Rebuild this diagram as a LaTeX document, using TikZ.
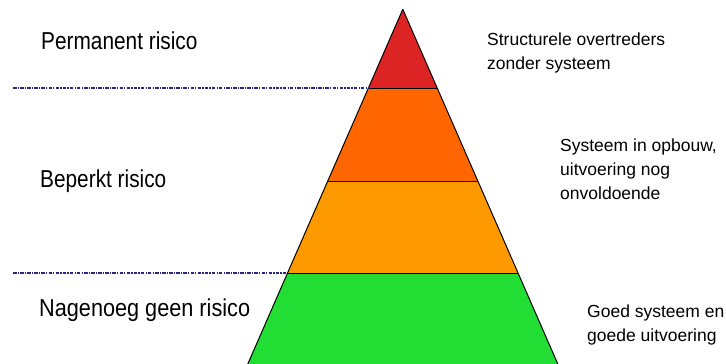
\documentclass[tikz,border=0pt]{standalone}
\usepackage{fontspec}
\setmainfont{Liberation Sans}
\newfontfamily\labfont[FakeStretch=0.85]{Liberation Sans}
\newfontfamily\labwidefont[FakeStretch=0.885]{Liberation Sans}
\definecolor{pyrred}{RGB}{220,36,36}
\definecolor{pyrorange}{RGB}{255,102,0}
\definecolor{pyramber}{RGB}{255,153,0}
\definecolor{pyrgreen}{RGB}{34,221,51}
\definecolor{levelblue}{RGB}{40,40,130}
\begin{document}
\begin{tikzpicture}[x=1pt,y=-1pt,
  lab/.style={font=\labfont\fontsize{24.5}{29}\selectfont, anchor=base west, inner sep=0},
  note/.style={font=\fontsize{17.5}{24}\selectfont, anchor=base west, inner sep=0, align=left},
  band/.style={draw=black, line width=1pt, line join=round},
  level/.style={draw=levelblue, line width=1.6pt, dash pattern=on 3.5pt off 1.2pt on 1.2pt off 1.2pt}]
\useasboundingbox (0,0) rectangle (726,364);
\clip (0,0) rectangle (726,364);
\fill[white] (0,0) rectangle (726,364);
% pyramid corners
\coordinate (A)  at (402.8,9.3);
\coordinate (L1) at (368.2,88.7);
\coordinate (R1) at (437.4,88.7);
\coordinate (L2) at (327.5,181.5);
\coordinate (R2) at (478.1,181.5);
\coordinate (L3) at (287.3,273.4);
\coordinate (R3) at (518.3,273.4);
\coordinate (L4) at (240.8,380);
\coordinate (R4) at (564.8,380);
% bands
\fill[pyrred]    (A) -- (R1) -- (L1) -- cycle;
\fill[pyrorange] (L1) -- (R1) -- (R2) -- (L2) -- cycle;
\fill[pyramber]  (L2) -- (R2) -- (R3) -- (L3) -- cycle;
\fill[pyrgreen]  (L3) -- (R3) -- (R4) -- (L4) -- cycle;
\draw[band] (L4) -- (A) -- (R4);
\draw[band] (L1) -- (R1);
\draw[band] (L2) -- (R2);
\draw[band] (L3) -- (R3);
% level lines
\coordinate (D1) at (13,87.8);
\coordinate (D2) at (13,272.9);
\draw[level] (D1) -- (L1 |- D1);
\draw[level] (D2) -- (L3 |- D2);
% labels left
\node[lab] (perm) at (41,49.3) {Permanent risico};
\node[lab] (bep)  at (40,187.7) {Beperkt risico};
\node[lab, font=\labwidefont\fontsize{24.5}{29}\selectfont] (nag) at (39,316.7) {Nagenoeg geen risico};
% labels right (base anchor = baseline of last line)
\node[note] (struct) at (487,69.3) {Structurele overtreders\\zonder systeem};
\node[note] (opb)    at (560,199.3) {Systeem in opbouw,\\uitvoering nog\\onvoldoende};
\node[note] (goed)   at (587,341.7) {Goed systeem en\\goede uitvoering};
\end{tikzpicture}
\end{document}
